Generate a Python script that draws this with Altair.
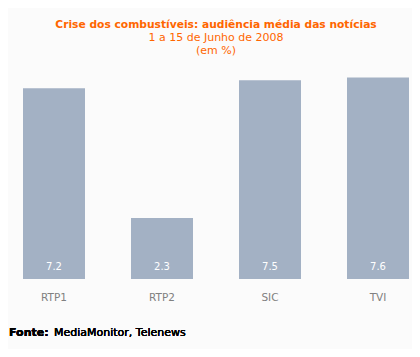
import altair as alt
import pandas as pd

canais = ["RTP1", "RTP2", "SIC", "TVI"]
audiencia = [7.2, 2.3, 7.5, 7.6]
rotulos = ["7.2", "2.3", "7.5", "7.6"]

df = pd.DataFrame({"canal": canais, "valor": audiencia, "rotulo": rotulos})

FONT = "DejaVu Sans"
BAR = "#a3b1c4"

x = alt.X("canal:N", sort=canais, title=None,
          scale=alt.Scale(paddingInner=0.426, paddingOuter=0),
          axis=alt.Axis(labelAngle=0, domain=False, ticks=False, labelPadding=13,
                        labelColor="#808080", labelFont=FONT, labelFontSize=10.5))

bars = alt.Chart(df).mark_bar(color=BAR).encode(
    x=x,
    y=alt.Y("valor:Q", scale=alt.Scale(domain=[0, 8]), axis=None),
)

labels = alt.Chart(df).mark_text(color="white", font=FONT, fontSize=10, dy=-12).encode(
    x=alt.X("canal:N", sort=canais),
    y=alt.datum(0),
    text="rotulo:N",
)

fonte_b = alt.Chart(df).mark_text(align="left", baseline="middle", font=FONT, fontSize=11,
                                  fontWeight="bold", color="black").encode(
    x=alt.value(-14), y=alt.value(266), text=alt.value("Fonte:"))
fonte_r = alt.Chart(df).mark_text(align="left", baseline="middle", font=FONT, fontSize=11,
                                  color="black").encode(
    x=alt.value(31), y=alt.value(266), text=alt.value("MediaMonitor, Telenews"))

chart = alt.layer(bars, labels, fonte_b, fonte_r).properties(
    width=386, height=212,
    autosize=alt.AutoSizeParams(type="none"),
    padding={"left": 15, "top": 59, "right": 3, "bottom": 70},
    background="#fbfbfb",
    title=alt.TitleParams(
        text="Crise dos combustíveis: audiência média das notícias",
        subtitle=["1 a 15 de Junho de 2008", "(em %)"],
        font=FONT, fontSize=10.7, fontWeight="bold", color="#ff6600",
        subtitleFont=FONT, subtitleFontSize=11, subtitleColor="#ff6600",
        subtitlePadding=1, subtitleLineHeight=13,
        anchor="middle", offset=10,
    ),
).configure_view(stroke=None)

chart.save("out.html", embed_options={"renderer": "svg", "actions": False})
